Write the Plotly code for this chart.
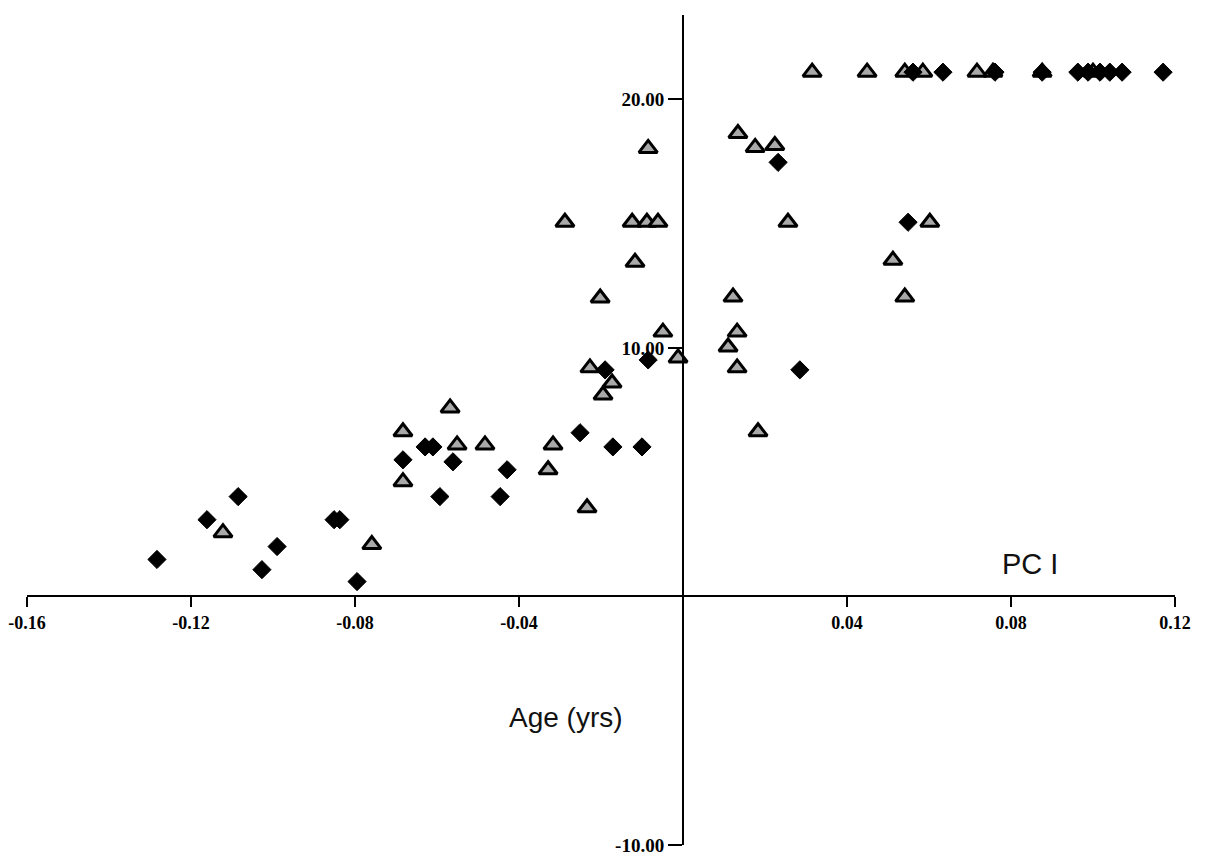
import plotly.graph_objects as go

# PC I scores and age (years) for the two groups
tri_pc1 = [-0.1122, -0.0759, -0.0683, -0.0683, -0.0568, -0.0551, -0.0483, -0.0317,
           -0.0329, -0.0234, -0.0288, -0.0202, -0.0227, -0.0173, -0.0195, -0.0124,
           -0.0088, -0.0061, -0.0117, -0.0085, -0.0049, -0.0012, 0.0122, 0.0132,
           0.0110, 0.0132, 0.0183, 0.0134, 0.0176, 0.0224, 0.0256, 0.0512,
           0.0541, 0.0602,
           0.0315, 0.0449, 0.0541, 0.0585, 0.0717, 0.0756, 0.0876, 0.1000]
tri_age = [2.57, 2.09, 6.63, 4.62, 7.59, 6.10, 6.10, 6.10,
           5.10, 3.57, 15.06, 12.01, 9.20, 8.59, 8.11, 15.06,
           15.06, 15.06, 13.45, 18.03, 10.64, 9.60, 12.05, 10.64,
           10.04, 9.20, 6.63, 18.63, 18.07, 18.15, 15.06, 13.53,
           12.05, 15.06,
           21.1, 21.1, 21.1, 21.1, 21.1, 21.1, 21.1, 21.1]

dia_pc1 = [-0.1283, -0.1161, -0.1085, -0.1027, -0.0990, -0.0851, -0.0837, -0.0795,
           -0.0683, -0.0629, -0.0610, -0.0561, -0.0593, -0.0429, -0.0446, -0.0251,
           -0.0190, -0.0171, -0.0100, -0.0085, 0.0232, 0.0285, 0.0549,
           0.0561, 0.0634, 0.0761, 0.0876, 0.0963, 0.0988, 0.1017, 0.1041,
           0.1071, 0.1171]
dia_age = [1.49, 3.09, 4.02, 1.08, 2.01, 3.09, 3.09, 0.60,
           5.50, 6.02, 6.02, 5.42, 4.02, 5.10, 4.02, 6.59,
           9.12, 6.02, 6.02, 9.52, 17.47, 9.12, 15.06,
           21.1, 21.1, 21.1, 21.1, 21.1, 21.1, 21.1, 21.1,
           21.1, 21.1]

x_ticks = [-0.16, -0.12, -0.08, -0.04, 0.04, 0.08, 0.12]
x_tick_text = ["-0.16", "-0.12", "-0.08", "-0.04", "0.04", "0.08", "0.12"]
y_ticks = [-10, 10, 20]
y_tick_text = ["-10.00", "10.00", "20.00"]

x_range = [-0.16, 0.12]
y_range = [-10, 23.4]

fig = go.Figure()

fig.add_trace(go.Scatter(
    x=tri_pc1, y=tri_age, mode="markers",
    marker=dict(symbol="triangle-up", size=16, color="#a9a9a9",
                line=dict(color="black", width=3)),
    showlegend=False,
))
fig.add_trace(go.Scatter(
    x=dia_pc1, y=dia_age, mode="markers",
    marker=dict(symbol="diamond", size=14, color="black",
                line=dict(color="black", width=1)),
    showlegend=False,
))

x_tick_font = dict(family="Liberation Serif", size=18, color="black", weight="bold")
y_tick_font = dict(family="Liberation Serif", size=19, color="black", weight="bold")

# axes cross at the origin
x_pos = (0 - y_range[0]) / (y_range[1] - y_range[0])
y_pos = (0 - x_range[0]) / (x_range[1] - x_range[0])

fig.update_layout(
    width=1210, height=855,
    margin=dict(l=27, r=35, t=15, b=10),
    paper_bgcolor="white", plot_bgcolor="white",
    xaxis=dict(range=x_range, anchor="free", position=x_pos,
               showgrid=False, zeroline=False,
               showline=True, linecolor="black", linewidth=2,
               ticks="outside", ticklen=10, tickwidth=2, tickcolor="black",
               tickvals=x_ticks, ticktext=x_tick_text, tickfont=x_tick_font,
               ticklabeloverflow="allow", automargin=False),
    yaxis=dict(range=y_range, anchor="free", position=y_pos,
               showgrid=False, zeroline=False,
               showline=True, linecolor="black", linewidth=2,
               ticks="outside", ticklen=14, tickwidth=2, tickcolor="black",
               tickvals=y_ticks, ticktext=y_tick_text, tickfont=y_tick_font,
               ticklabeloverflow="allow", automargin=False),
    annotations=[
        dict(x=0.0846, y=1.29, xref="x", yref="y", text="PC I", showarrow=False,
             font=dict(family="Liberation Sans", size=29, color="#111111")),
        dict(x=-0.0285, y=-4.86, xref="x", yref="y", text="Age (yrs)", showarrow=False,
             font=dict(family="Liberation Sans", size=28, color="#111111")),
    ],
)

fig.write_html("out.html")
